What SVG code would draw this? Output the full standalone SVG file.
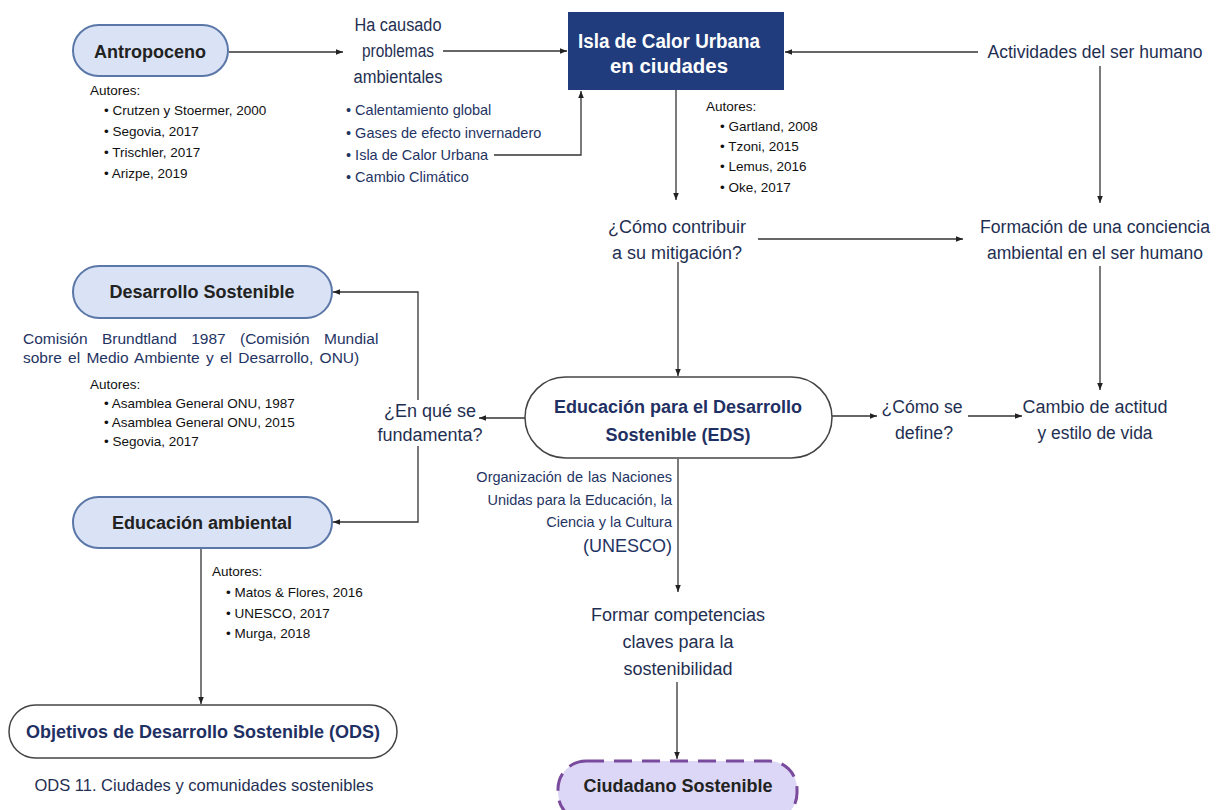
<svg xmlns="http://www.w3.org/2000/svg" width="1220" height="810" viewBox="0 0 1220 810">
<style>
text{font-family:"Liberation Sans",Arial,sans-serif}
.lbl{font-size:18px;fill:#1f2f52;text-anchor:middle}
.pt{font-size:18px;font-weight:bold;fill:#222;text-anchor:middle}
.pn{font-size:18px;font-weight:bold;fill:#1f3063;text-anchor:middle}
.bx{font-size:20px;font-weight:bold;fill:#fff;text-anchor:middle}
.au{font-size:13.5px;fill:#111}
.li{font-size:14.5px;fill:#1f3463}
.sm{font-size:14.5px;fill:#1f3463}
.blue{fill:#dae3f5;stroke:#5a77a8;stroke-width:2}
.white{fill:#fff;stroke:#444;stroke-width:1.5}
.ln{stroke:#333;stroke-width:1.3;fill:none}
</style>
<defs>
<marker id="ah" viewBox="0 0 10 10" refX="10" refY="5" markerWidth="7" markerHeight="7" markerUnits="userSpaceOnUse" orient="auto">
<path d="M0,1 L10,5 L0,9 z" fill="#222"/>
</marker>
</defs>
<rect width="1220" height="810" fill="#fff"/>

<g id="connectors">
<line class="ln" x1="229" y1="52" x2="343" y2="52" marker-end="url(#ah)"/>
<line class="ln" x1="443" y1="51" x2="567" y2="51" marker-end="url(#ah)"/>
<polyline class="ln" points="494,155 581,155 581,91" marker-end="url(#ah)"/>
<line class="ln" x1="978" y1="52" x2="785" y2="52" marker-end="url(#ah)"/>
<line class="ln" x1="676" y1="90" x2="676" y2="200" marker-end="url(#ah)"/>
<line class="ln" x1="1100" y1="66" x2="1100" y2="203" marker-end="url(#ah)"/>
<line class="ln" x1="758" y1="239" x2="963" y2="239" marker-end="url(#ah)"/>
<line class="ln" x1="678" y1="262" x2="678" y2="376" marker-end="url(#ah)"/>
<line class="ln" x1="1100" y1="266" x2="1100" y2="390" marker-end="url(#ah)"/>
<line class="ln" x1="832" y1="416" x2="877" y2="416" marker-end="url(#ah)"/>
<line class="ln" x1="968" y1="416" x2="1022" y2="416" marker-end="url(#ah)"/>
<line class="ln" x1="525" y1="418" x2="479" y2="418" marker-end="url(#ah)"/>
<polyline class="ln" points="418,400 418,292 333,292" marker-end="url(#ah)"/>
<polyline class="ln" points="418,446 418,522 333,522" marker-end="url(#ah)"/>
<line class="ln" x1="201" y1="549" x2="201" y2="704" marker-end="url(#ah)"/>
<line class="ln" x1="678" y1="459" x2="678" y2="592" marker-end="url(#ah)"/>
<line class="ln" x1="677" y1="682" x2="677" y2="759" marker-end="url(#ah)"/>
</g>

<g id="antropoceno">
<rect class="blue" x="73" y="25" width="155" height="51" rx="25.5"/>
<text class="pt" x="150" y="58">Antropoceno</text>
<text class="au" x="90" y="95">Autores:</text>
<text class="au" x="104" y="115">• Crutzen y Stoermer, 2000</text>
<text class="au" x="104" y="136">• Segovia, 2017</text>
<text class="au" x="104" y="157">• Trischler, 2017</text>
<text class="au" x="104" y="178">• Arizpe, 2019</text>
</g>

<g id="problemas">
<text class="lbl" x="398" y="31" textLength="87" lengthAdjust="spacingAndGlyphs">Ha causado</text>
<text class="lbl" x="398" y="57" textLength="72" lengthAdjust="spacingAndGlyphs">problemas</text>
<text class="lbl" x="398" y="83" textLength="89" lengthAdjust="spacingAndGlyphs">ambientales</text>
<text class="li" x="346" y="115">• Calentamiento global</text>
<text class="li" x="346" y="138">• Gases de efecto invernadero</text>
<text class="li" x="346" y="160">• Isla de Calor Urbana</text>
<text class="li" x="346" y="182">• Cambio Climático</text>
</g>

<g id="isla">
<rect x="568" y="12" width="216" height="78" fill="#203c7c"/>
<text class="bx" x="669" y="48" textLength="182" lengthAdjust="spacingAndGlyphs">Isla de Calor Urbana</text>
<text class="bx" x="669" y="73" textLength="118" lengthAdjust="spacingAndGlyphs">en ciudades</text>
<text class="au" x="706" y="111">Autores:</text>
<text class="au" x="720" y="131">• Gartland, 2008</text>
<text class="au" x="720" y="151">• Tzoni, 2015</text>
<text class="au" x="720" y="171">• Lemus, 2016</text>
<text class="au" x="720" y="192">• Oke, 2017</text>
</g>

<g id="actividades">
<text class="lbl" x="1095" y="58" textLength="215" lengthAdjust="spacingAndGlyphs">Actividades del ser humano</text>
</g>

<g id="contribuir">
<text class="lbl" x="677" y="233">¿Cómo contribuir</text>
<text class="lbl" x="677" y="259">a su mitigación?</text>
</g>

<g id="formacion">
<text class="lbl" x="1095" y="233" textLength="230" lengthAdjust="spacingAndGlyphs">Formación de una conciencia</text>
<text class="lbl" x="1095" y="259" textLength="216" lengthAdjust="spacingAndGlyphs">ambiental en el ser humano</text>
</g>

<g id="desarrollo">
<rect class="blue" x="73" y="266" width="259" height="52" rx="26"/>
<text class="pt" x="202" y="298">Desarrollo Sostenible</text>
<text class="sm" x="23" y="344" style="font-size:15.5px;word-spacing:10px">Comisión Brundtland 1987 (Comisión Mundial</text>
<text class="sm" x="23" y="363" style="font-size:15.5px;word-spacing:2px">sobre el Medio Ambiente y el Desarrollo, ONU)</text>
<text class="au" x="90" y="389">Autores:</text>
<text class="au" x="104" y="408">• Asamblea General ONU, 1987</text>
<text class="au" x="104" y="427">• Asamblea General ONU, 2015</text>
<text class="au" x="104" y="446">• Segovia, 2017</text>
</g>

<g id="fundamenta">
<text class="lbl" x="430" y="417">¿En qué se</text>
<text class="lbl" x="430" y="441">fundamenta?</text>
</g>

<g id="eds">
<rect class="white" x="525" y="377" width="307" height="81" rx="40.5"/>
<text class="pn" x="678" y="413">Educación para el Desarrollo</text>
<text class="pn" x="678" y="441">Sostenible (EDS)</text>
<text class="sm" x="672" y="482" text-anchor="end" style="word-spacing:1px">Organización de las Naciones</text>
<text class="sm" x="672" y="505" text-anchor="end">Unidas para la Educación, la</text>
<text class="sm" x="672" y="527" text-anchor="end">Ciencia y la Cultura</text>
<text class="sm" x="672" y="552" text-anchor="end" style="font-size:18px">(UNESCO)</text>
</g>

<g id="define">
<text class="lbl" x="922" y="413" textLength="81" lengthAdjust="spacingAndGlyphs">¿Cómo se</text>
<text class="lbl" x="924" y="439" textLength="58" lengthAdjust="spacingAndGlyphs">define?</text>
</g>

<g id="cambio">
<text class="lbl" x="1095" y="413" textLength="145" lengthAdjust="spacingAndGlyphs">Cambio de actitud</text>
<text class="lbl" x="1095" y="439" textLength="115" lengthAdjust="spacingAndGlyphs">y estilo de vida</text>
</g>

<g id="educacion-ambiental">
<rect class="blue" x="73" y="497" width="259" height="51" rx="25.5"/>
<text class="pt" x="202" y="529">Educación ambiental</text>
<text class="au" x="212" y="576">Autores:</text>
<text class="au" x="226" y="597">• Matos &amp; Flores, 2016</text>
<text class="au" x="226" y="618">• UNESCO, 2017</text>
<text class="au" x="226" y="638">• Murga, 2018</text>
</g>

<g id="ods">
<rect class="white" x="9" y="705" width="388" height="53" rx="26.5"/>
<text class="pn" x="203" y="738">Objetivos de Desarrollo Sostenible (ODS)</text>
<text class="lbl" x="204" y="791" style="font-size:16.5px">ODS 11. Ciudades y comunidades sostenibles</text>
</g>

<g id="competencias">
<text class="lbl" x="678" y="621">Formar competencias</text>
<text class="lbl" x="678" y="648">claves para la</text>
<text class="lbl" x="678" y="675">sostenibilidad</text>
</g>

<g id="ciudadano">
<rect x="558" y="761" width="239" height="60" rx="28" fill="#dcd7f6" stroke="#7a4a9c" stroke-width="3" stroke-dasharray="18 10"/>
<text class="pt" x="678" y="792">Ciudadano Sostenible</text>
</g>
</svg>
